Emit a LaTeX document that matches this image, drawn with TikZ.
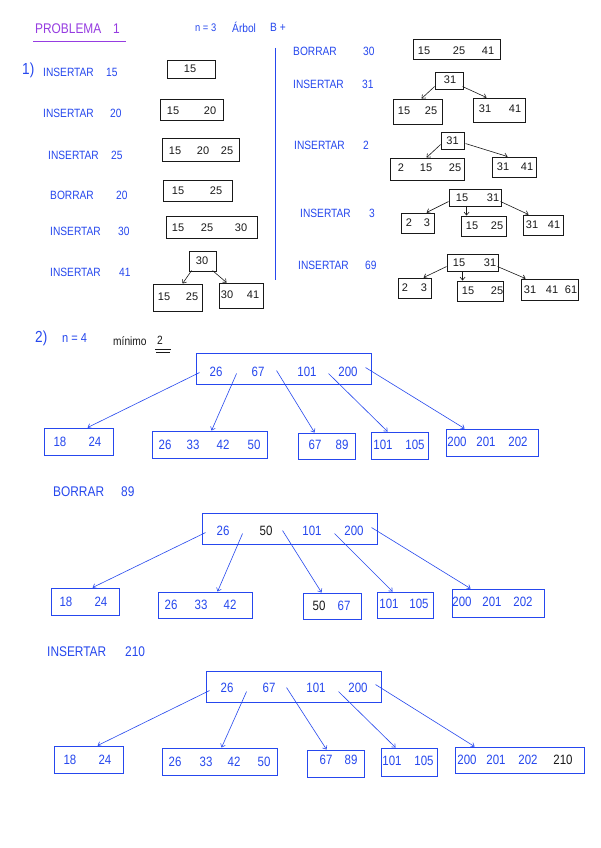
\documentclass[tikz,border=0pt]{standalone}
\usepackage{fontspec}
\setmainfont{Liberation Sans}
\newfontfamily\hand[FakeStretch=0.85]{Liberation Sans}
\usetikzlibrary{arrows.meta,calc}
\definecolor{ink}{RGB}{38,72,238}
\definecolor{purp}{RGB}{150,60,225}
\definecolor{dark}{RGB}{25,25,25}
\newcommand{\bx}[6][]{\node[kbox,#1,minimum width={(#5-#3)*1pt},minimum height={(#6-#4)*1pt}] (#2) at ({(#3+#5)/2},{(#4+#6)/2}) {};}
\newcommand{\keyrow}[4][]{\foreach \kx/\kt [count=\ki] in {#4} {\node[keyt,#1] (#2-\ki) at (\kx,#3) {\kt};}}
\newcommand{\lnk}[6][]{\draw[arr,#1] ($(#2.north west)+(#3,#4)$) -- ($(#5.north west)+(#6,0)$);}
\begin{document}
\begin{tikzpicture}[x=1pt,y=-1pt,
 kbox/.style={draw=dark, line width=0.9pt, inner sep=0pt},
 bbox/.style={draw=ink, line width=0.9pt},
 keyt/.style={inner sep=0pt, text=dark, font=\fontsize{11}{13}\selectfont},
 bkey/.style={text=ink, font=\hand\fontsize{13.5}{15}\selectfont},
 lab/.style={anchor=west, inner sep=0pt, text=ink, font=\hand\fontsize{12}{14}\selectfont},
 blab/.style={lab, font=\hand\fontsize{14}{16}\selectfont},
 arr/.style={draw=dark, line width=0.6pt, -{Straight Barb[length=3pt,width=5pt]}},
 barr/.style={draw=ink},
]
\fill[white] (0,0) rectangle (600,848);
\useasboundingbox (0,0) rectangle (600,848);

% header
\node[lab, text=purp, font=\hand\fontsize{14}{16}\selectfont] (title) at (35,29) {PROBLEMA};
\node[lab, text=purp, font=\hand\fontsize{14}{16}\selectfont] (titlen) at (113,29) {1};
\coordinate (ulA) at (33,41); \coordinate (ulB) at (126,41);
\draw[purp, line width=0.9pt] (ulA) -- (ulB);
\node[lab, font=\hand\fontsize{11}{13}\selectfont] (hn) at (195,28) {n = 3};
\node[lab, font=\hand\fontsize{12}{14}\selectfont] (harb) at (232,27) {Árbol};
\node[lab, font=\hand\fontsize{12}{14}\selectfont] (hb) at (270,27) {B +};

\coordinate (vt) at (275,48); \coordinate (vb) at (275,280);
\draw[ink, line width=0.8pt] (vt) -- (vb);

% part 1 left
\node[lab, font=\hand\fontsize{16}{18}\selectfont] (p1) at (22,70) {1)};
\node[lab] (l1) at (43,72) {INSERTAR}; \node[lab] (l1n) at (106,72) {15};
\node[lab] (l2) at (43,113) {INSERTAR}; \node[lab] (l2n) at (110,113) {20};
\node[lab] (l3) at (48,155) {INSERTAR}; \node[lab] (l3n) at (111,155) {25};
\node[lab] (l4) at (50,195) {BORRAR}; \node[lab] (l4n) at (116,195) {20};
\node[lab] (l5) at (50,231) {INSERTAR}; \node[lab] (l5n) at (118,231) {30};
\node[lab] (l6) at (50,272) {INSERTAR}; \node[lab] (l6n) at (119,272) {41};

\bx{p1a}{167}{60}{215}{78} \keyrow{p1a}{69}{190/15}
\bx{p1b}{160}{99}{223}{120} \keyrow{p1b}{111}{173/15,210/20}
\bx{p1c}{162}{138}{239}{161} \keyrow{p1c}{151}{175/15,203/20,227/25}
\bx{p1d}{163}{180}{232}{201} \keyrow{p1d}{191}{178/15,216/25}
\bx{p1e}{166}{216}{257}{238} \keyrow{p1e}{228}{178/15,207/25,241/30}
\bx{p1f}{189}{251}{216}{271} \keyrow{p1f}{261}{202/30}
\bx{p1g}{153}{284}{202}{311} \keyrow{p1g}{297}{164/15,192/25}
\bx{p1h}{219}{283}{263}{308} \keyrow{p1h}{295}{227/30,253/41}
\lnk{p1f}{3}{20}{p1g}{30}
\lnk{p1f}{24}{20}{p1h}{8}

% part 1 right
\node[lab] (r1) at (293,51) {BORRAR}; \node[lab] (r1n) at (363,51) {30};
\node[lab] (r2) at (293,84) {INSERTAR}; \node[lab] (r2n) at (362,84) {31};
\node[lab] (r3) at (294,145) {INSERTAR}; \node[lab] (r3n) at (363,145) {2};
\node[lab] (r4) at (300,213) {INSERTAR}; \node[lab] (r4n) at (369,213) {3};
\node[lab] (r5) at (298,265) {INSERTAR}; \node[lab] (r5n) at (365,265) {69};

\bx{ra}{413}{39}{500}{59} \keyrow{ra}{51}{424/15,459/25,488/41}

\bx{rb}{435}{72}{463}{89} \keyrow{rb}{80}{450/31}
\bx{rb1}{393}{99}{442}{124} \keyrow{rb1}{111}{404/15,431/25}
\bx{rb2}{473}{98}{525}{122} \keyrow{rb2}{109}{485/31,515/41}
\lnk{rb}{0}{15}{rb1}{29}
\lnk{rb}{28}{15}{rb2}{14}

\bx{rc}{441}{132}{464}{149} \keyrow{rc}{141}{452.5/31}
\bx{rc1}{390}{158}{464}{180} \keyrow{rc1}{168}{401/2,426/15,455/25}
\bx{rc2}{492}{157}{536}{177} \keyrow{rc2}{167}{503/31,527/41}
\lnk{rc}{0}{13}{rc1}{37}
\lnk{rc}{25}{12}{rc2}{16}

\bx{rd}{449}{189}{501}{206} \keyrow{rd}{198}{462/15,493/31}
\bx{rd1}{401}{213}{434}{233} \keyrow{rd1}{223}{409/2,427/3}
\bx{rd2}{461}{216}{506}{236} \keyrow{rd2}{226}{472/15,497/25}
\bx{rd3}{523}{215}{563}{235} \keyrow{rd3}{225}{532/31,554/41}
\lnk{rd}{0}{13}{rd1}{26}
\lnk{rd}{18}{17}{rd2}{6}
\lnk{rd}{52}{13}{rd3}{6}

\bx{re}{447}{254}{498}{271} \keyrow{re}{263}{459/15,490/31}
\bx{re1}{398}{278}{431}{298} \keyrow{re1}{288}{405/2,424/3}
\bx{re2}{457}{281}{503}{301} \keyrow{re2}{291}{468/15,497/25}
\bx{re3}{521}{279}{578}{300} \keyrow{re3}{290}{530/31,552/41,571/61}
\lnk{re}{0}{13}{re1}{26}
\lnk{re}{16}{18}{re2}{6}
\lnk{re}{51}{13}{re3}{5}

% part 2
\node[lab, font=\hand\fontsize{16}{18}\selectfont] (p2) at (35,338) {2)};
\node[lab, font=\hand\fontsize{13}{15}\selectfont] (p2n) at (62,338) {n = 4};
\node[lab, text=dark, font=\hand\fontsize{12}{14}\selectfont] (p2m) at (113,341) {mínimo};
\node[lab, text=dark, font=\hand\fontsize{12}{14}\selectfont] (p2d) at (157,340) {2};
\coordinate (u1a) at (155,349); \coordinate (u1b) at (171,349);
\coordinate (u2a) at (156,352); \coordinate (u2b) at (170,352);
\draw[dark, line width=0.6pt] (u1a) -- (u1b) (u2a) -- (u2b);

% tree 1
\bx[bbox]{T1}{196}{353}{371}{384} \keyrow[bkey]{T1}{372}{216/26,258/67,307/101,348/200}
\bx[bbox]{T1a}{44}{428}{113}{455} \keyrow[bkey]{T1a}{442}{60/18,95/24}
\bx[bbox]{T1b}{152}{431}{267}{458} \keyrow[bkey]{T1b}{445}{165/26,193/33,223/42,254/50}
\bx[bbox]{T1c}{298}{433}{355}{459} \keyrow[bkey]{T1c}{445}{315/67,342/89}
\bx[bbox]{T1d}{371}{432}{428}{459} \keyrow[bkey]{T1d}{445}{383/101,415/105}
\bx[bbox]{T1e}{446}{429}{538}{456} \keyrow[bkey]{T1e}{442}{457/200,486/201,518/202}
\lnk[barr]{T1}{4}{20}{T1a}{44}
\lnk[barr]{T1}{41}{21}{T1b}{60}
\lnk[barr]{T1}{81}{18}{T1c}{17}
\lnk[barr]{T1}{133}{21}{T1d}{17}
\lnk[barr]{T1}{170}{15}{T1e}{19}

% tree 2
\node[blab] (b2) at (53,492) {BORRAR}; \node[blab] (b2n) at (121,492) {89};
\bx[bbox]{T2}{202}{513}{377}{544} \keyrow[bkey]{T2}{531}{223/26,266/{\color{dark}50},312/101,354/200}
\bx[bbox]{T2a}{51}{588}{119}{615} \keyrow[bkey]{T2a}{602}{66/18,101/24}
\bx[bbox]{T2b}{158}{592}{252}{618} \keyrow[bkey]{T2b}{605}{171/26,201/33,230/42}
\bx[bbox]{T2c}{303}{593}{361}{619} \keyrow[bkey]{T2c}{606}{319/{\color{dark}50},344/67}
\bx[bbox]{T2d}{377}{592}{433}{618} \keyrow[bkey]{T2d}{604}{389/101,419/105}
\bx[bbox]{T2e}{452}{589}{544}{617} \keyrow[bkey]{T2e}{602}{462/200,492/201,523/202}
\lnk[barr]{T2}{4}{20}{T2a}{42}
\lnk[barr]{T2}{41}{21}{T2b}{60}
\lnk[barr]{T2}{81}{18}{T2c}{19}
\lnk[barr]{T2}{133}{21}{T2d}{16}
\lnk[barr]{T2}{170}{15}{T2e}{19}

% tree 3
\node[blab] (b3) at (47,652) {INSERTAR}; \node[blab] (b3n) at (125,652) {210};
\bx[bbox]{T3}{206}{671}{381}{702} \keyrow[bkey]{T3}{688}{227/26,269/67,316/101,358/200}
\bx[bbox]{T3a}{54}{746}{123}{773} \keyrow[bkey]{T3a}{760}{70/18,105/24}
\bx[bbox]{T3b}{162}{748}{277}{775} \keyrow[bkey]{T3b}{762}{175/26,206/33,234/42,264/50}
\bx[bbox]{T3c}{307}{750}{364}{777} \keyrow[bkey]{T3c}{760}{326/67,351/89}
\bx[bbox]{T3d}{381}{748}{437}{776} \keyrow[bkey]{T3d}{761}{392/101,424/105}
\bx[bbox]{T3e}{455}{747}{584}{773} \keyrow[bkey]{T3e}{760}{467/200,496/201,528/202,563/{\color{dark}210}}
\lnk[barr]{T3}{4}{20}{T3a}{44}
\lnk[barr]{T3}{41}{21}{T3b}{60}
\lnk[barr]{T3}{81}{17}{T3c}{20}
\lnk[barr]{T3}{133}{21}{T3d}{15}
\lnk[barr]{T3}{170}{14}{T3e}{20}
\end{tikzpicture}
\end{document}
